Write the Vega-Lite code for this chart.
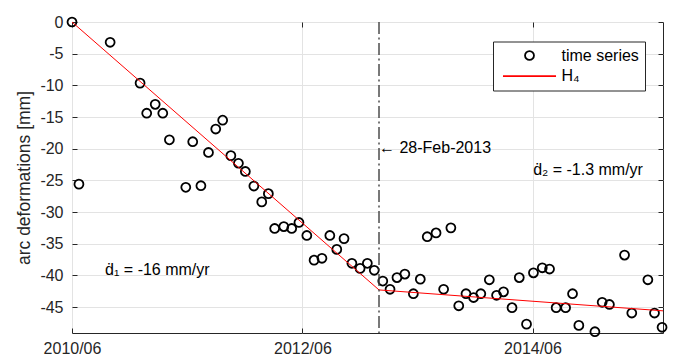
{
  "$schema": "https://vega.github.io/schema/vega-lite/v6.json",
  "width": 591,
  "height": 311,
  "autosize": {"type": "none"},
  "padding": {"left": 72, "top": 22, "right": 13, "bottom": 25},
  "background": "white",
  "datasets": {
    "points": [
      {"date": "2010-06-30", "value": 0, "series": "time series"},
      {"date": "2010-07-22", "value": -25.6, "series": "time series"},
      {"date": "2010-10-29", "value": -3.2, "series": "time series"},
      {"date": "2011-02-01", "value": -9.65, "series": "time series"},
      {"date": "2011-02-22", "value": -14.4, "series": "time series"},
      {"date": "2011-03-21", "value": -13.0, "series": "time series"},
      {"date": "2011-04-14", "value": -14.4, "series": "time series"},
      {"date": "2011-05-05", "value": -18.6, "series": "time series"},
      {"date": "2011-06-26", "value": -26.1, "series": "time series"},
      {"date": "2011-07-18", "value": -18.9, "series": "time series"},
      {"date": "2011-08-13", "value": -25.85, "series": "time series"},
      {"date": "2011-09-06", "value": -20.6, "series": "time series"},
      {"date": "2011-09-29", "value": -16.9, "series": "time series"},
      {"date": "2011-10-21", "value": -15.5, "series": "time series"},
      {"date": "2011-11-16", "value": -21.1, "series": "time series"},
      {"date": "2011-12-10", "value": -22.3, "series": "time series"},
      {"date": "2012-01-01", "value": -23.6, "series": "time series"},
      {"date": "2012-01-28", "value": -25.9, "series": "time series"},
      {"date": "2012-02-22", "value": -28.4, "series": "time series"},
      {"date": "2012-03-14", "value": -27.1, "series": "time series"},
      {"date": "2012-04-03", "value": -32.6, "series": "time series"},
      {"date": "2012-05-02", "value": -32.3, "series": "time series"},
      {"date": "2012-05-27", "value": -32.6, "series": "time series"},
      {"date": "2012-06-19", "value": -31.65, "series": "time series"},
      {"date": "2012-07-14", "value": -33.7, "series": "time series"},
      {"date": "2012-08-06", "value": -37.6, "series": "time series"},
      {"date": "2012-08-31", "value": -37.3, "series": "time series"},
      {"date": "2012-09-25", "value": -33.7, "series": "time series"},
      {"date": "2012-10-17", "value": -35.9, "series": "time series"},
      {"date": "2012-11-09", "value": -34.2, "series": "time series"},
      {"date": "2012-12-04", "value": -38.1, "series": "time series"},
      {"date": "2012-12-30", "value": -38.9, "series": "time series"},
      {"date": "2013-01-22", "value": -38.1, "series": "time series"},
      {"date": "2013-02-13", "value": -39.2, "series": "time series"},
      {"date": "2013-03-12", "value": -40.9, "series": "time series"},
      {"date": "2013-04-04", "value": -42.2, "series": "time series"},
      {"date": "2013-04-26", "value": -40.35, "series": "time series"},
      {"date": "2013-05-21", "value": -39.8, "series": "time series"},
      {"date": "2013-06-17", "value": -42.9, "series": "time series"},
      {"date": "2013-07-09", "value": -40.6, "series": "time series"},
      {"date": "2013-07-31", "value": -33.9, "series": "time series"},
      {"date": "2013-08-28", "value": -33.3, "series": "time series"},
      {"date": "2013-09-21", "value": -42.2, "series": "time series"},
      {"date": "2013-10-14", "value": -32.5, "series": "time series"},
      {"date": "2013-11-08", "value": -44.8, "series": "time series"},
      {"date": "2013-12-01", "value": -42.9, "series": "time series"},
      {"date": "2013-12-25", "value": -43.5, "series": "time series"},
      {"date": "2014-01-17", "value": -42.9, "series": "time series"},
      {"date": "2014-02-13", "value": -40.7, "series": "time series"},
      {"date": "2014-03-08", "value": -43.15, "series": "time series"},
      {"date": "2014-03-30", "value": -42.6, "series": "time series"},
      {"date": "2014-04-26", "value": -45.1, "series": "time series"},
      {"date": "2014-05-19", "value": -40.35, "series": "time series"},
      {"date": "2014-06-11", "value": -47.7, "series": "time series"},
      {"date": "2014-07-03", "value": -39.6, "series": "time series"},
      {"date": "2014-07-31", "value": -38.8, "series": "time series"},
      {"date": "2014-08-23", "value": -39.0, "series": "time series"},
      {"date": "2014-09-13", "value": -45.1, "series": "time series"},
      {"date": "2014-10-13", "value": -45.1, "series": "time series"},
      {"date": "2014-11-04", "value": -42.9, "series": "time series"},
      {"date": "2014-11-24", "value": -47.9, "series": "time series"},
      {"date": "2015-01-14", "value": -48.9, "series": "time series"},
      {"date": "2015-02-06", "value": -44.25, "series": "time series"},
      {"date": "2015-03-01", "value": -44.6, "series": "time series"},
      {"date": "2015-04-18", "value": -36.8, "series": "time series"},
      {"date": "2015-05-11", "value": -45.95, "series": "time series"},
      {"date": "2015-07-01", "value": -40.7, "series": "time series"},
      {"date": "2015-07-22", "value": -45.95, "series": "time series"},
      {"date": "2015-08-15", "value": -48.2, "series": "time series"}
    ],
    "h4": [
      {"date": "2010-06-30", "value": 0, "series": "H₄"},
      {"date": "2013-02-28", "value": -42.3, "series": "H₄"},
      {"date": "2015-08-18", "value": -45.6, "series": "H₄"}
    ],
    "breaks": [
      {"date": "2013-02-28"}
    ],
    "notes": [
      {"date": "2013-02-28", "value": -19.9, "label": "← 28-Feb-2013", "dx": 5},
      {"date": "2010-10-13", "value": -39.2, "label": "ḋ₁ = -16 mm/yr", "dx": 0},
      {"date": "2014-07-02", "value": -23.4, "label": "ḋ₂ = -1.3 mm/yr", "dx": 0}
    ]
  },
  "layer": [
    {
      "data": {"name": "points"},
      "mark": {"type": "point", "filled": false, "strokeWidth": 1.8, "opacity": 1, "size": 80},
      "encoding": {
        "x": {
          "field": "date", "type": "temporal",
          "scale": {"type": "utc", "domain": [{"year": 2010, "month": 6, "date": 30, "utc": true}, {"year": 2015, "month": 8, "date": 18, "utc": true}]},
          "axis": {
            "orient": "bottom", "title": null, "format": "%Y/%m",
            "values": [{"year": 2010, "month": 6, "date": 30, "utc": true}, {"year": 2012, "month": 6, "date": 30, "utc": true}, {"year": 2014, "month": 6, "date": 30, "utc": true}],
            "grid": true, "domain": false, "ticks": true, "tickSize": -5, "labelPadding": 12, "labelFlush": false
          }
        },
        "y": {
          "field": "value", "type": "quantitative",
          "scale": {"domain": [-49.1, 0], "nice": false, "zero": false},
          "axis": {
            "orient": "left", "title": "arc deformations [mm]",
            "values": [0, -5, -10, -15, -20, -25, -30, -35, -40, -45],
            "labelExpr": "toString(datum.value)",
            "grid": true, "domain": false, "ticks": true, "tickSize": -5, "labelPadding": 14,
            "titleFontSize": 17.5, "titleFontWeight": "normal", "titlePadding": 6, "titleColor": "#262626"
          }
        },
        "shape": {
          "field": "series", "type": "nominal",
          "scale": {"domain": ["time series", "H₄"], "range": ["M1,0A1,1,0,1,1,-1,0A1,1,0,1,1,1,0Z", "M-5.93,0H5.93"]},
          "legend": {
            "title": null, "orient": "none", "legendX": 421, "legendY": 19.5,
            "padding": 6, "fillColor": "white", "strokeColor": "#262626",
            "rowPadding": 3.7, "symbolOffset": 22.5, "labelOffset": 24, "symbolSize": 80,
            "labelFontSize": 16, "labelColor": "#000000", "labelFont": "Liberation Sans",
            "symbolStrokeWidth": 1.8, "symbolFillColor": "transparent"
          }
        },
        "stroke": {
          "field": "series", "type": "nominal",
          "scale": {"domain": ["time series", "H₄"], "range": ["#000000", "#ff0000"]},
          "legend": {
            "title": null, "orient": "none", "legendX": 421, "legendY": 19.5,
            "padding": 6, "fillColor": "white", "strokeColor": "#262626",
            "rowPadding": 3.7, "symbolOffset": 22.5, "labelOffset": 24, "symbolSize": 80,
            "labelFontSize": 16, "labelColor": "#000000", "labelFont": "Liberation Sans",
            "symbolStrokeWidth": 1.8, "symbolFillColor": "transparent"
          }
        }
      }
    },
    {
      "data": {"name": "h4"},
      "mark": {"type": "line", "strokeWidth": 1},
      "encoding": {
        "x": {
          "field": "date", "type": "temporal",
          "axis": {
            "orient": "top", "title": null, "labels": false, "grid": false, "domain": false,
            "values": [{"year": 2010, "month": 6, "date": 30, "utc": true}, {"year": 2012, "month": 6, "date": 30, "utc": true}, {"year": 2014, "month": 6, "date": 30, "utc": true}],
            "ticks": true, "tickSize": -5
          }
        },
        "y": {
          "field": "value", "type": "quantitative",
          "axis": {
            "orient": "right", "title": null, "labels": false, "grid": false, "domain": false,
            "values": [0, -5, -10, -15, -20, -25, -30, -35, -40, -45],
            "ticks": true, "tickSize": -5
          }
        },
        "stroke": {
          "field": "series", "type": "nominal",
          "legend": {
            "title": null, "orient": "none", "legendX": 421, "legendY": 19.5,
            "padding": 6, "fillColor": "white", "strokeColor": "#262626",
            "rowPadding": 3.7, "symbolOffset": 22.5, "labelOffset": 24, "symbolSize": 80,
            "labelFontSize": 16, "labelColor": "#000000", "labelFont": "Liberation Sans",
            "symbolStrokeWidth": 1.8, "symbolFillColor": "transparent"
          }
        }
      }
    },
    {
      "data": {"name": "breaks"},
      "mark": {"type": "rule", "color": "#404040", "strokeWidth": 1.4, "strokeDash": [12, 3.5, 2, 3.5]},
      "encoding": {
        "x": {"field": "date", "type": "temporal", "axis": null}
      }
    },
    {
      "data": {"name": "notes"},
      "mark": {"type": "text", "align": "left", "baseline": "middle", "fontSize": 16, "font": "Liberation Sans", "color": "#000000"},
      "encoding": {
        "x": {"field": "date", "type": "temporal", "axis": null},
        "y": {"field": "value", "type": "quantitative", "axis": null},
        "text": {"field": "label"},
        "xOffset": {"field": "dx", "type": "quantitative", "scale": null}
      }
    }
  ],
  "resolve": {"axis": {"x": "independent", "y": "independent"}},
  "config": {
    "font": "Liberation Sans",
    "view": {"stroke": "#262626", "strokeWidth": 1},
    "axis": {
      "labelFont": "Liberation Sans", "labelFontSize": 16, "labelColor": "#262626",
      "tickColor": "#262626", "tickWidth": 1, "gridColor": "#e3e3e3", "gridWidth": 1,
      "titleFont": "Liberation Sans"
    }
  }
}
